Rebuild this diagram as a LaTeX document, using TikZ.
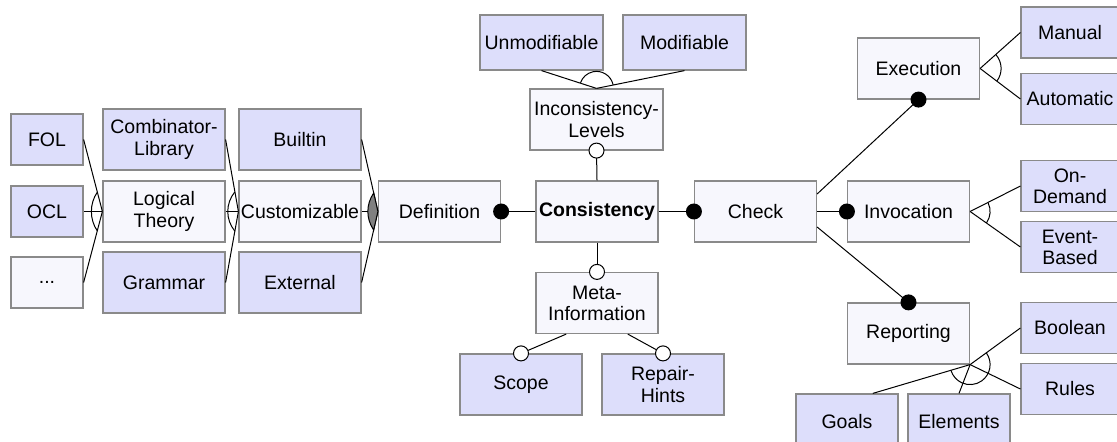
\documentclass[tikz,border=0pt]{standalone}
\usepackage{fontspec}
\setmainfont{Liberation Sans}
\usetikzlibrary{calc}
\definecolor{featabs}{RGB}{247,247,253}
\definecolor{featcon}{RGB}{221,222,251}
\definecolor{featedge}{RGB}{138,138,138}
\definecolor{orfill}{RGB}{128,128,128}
\begin{document}
\begin{tikzpicture}[x=0.5pt,y=0.5pt,
  feat/.style={draw=featedge,line width=0.6pt,inner sep=0pt,align=center,
    font=\fontsize{9.75}{10.6}\selectfont},
  featA/.style={feat,fill=featabs},
  featC/.style={feat,fill=featcon},
  wide/.style={minimum width=61pt,minimum height=30.5pt},
  narrow/.style={minimum width=36pt,minimum height=25.5pt},
  side/.style={minimum width=49pt,minimum height=25.5pt},
  low/.style={minimum width=51pt,minimum height=28pt},
  edge/.style={line width=0.5pt,black},
  mand/.style={circle,fill=black,inner sep=0pt,minimum size=8pt},
  opt/.style={circle,draw=black,fill=white,line width=0.5pt,inner sep=0pt,minimum size=7.5pt},
]
\useasboundingbox (0,0) rectangle (1117,-442);

% root and its direct children
\node[featA,wide] (cons) at (597,-211.5) {\bfseries Consistency};
\node[featA,wide] (def) at (439.5,-211.5) {Definition};
\node[featA,wide] (check) at (755.5,-211.5) {Check};
\node[featA,minimum width=66.5pt,minimum height=30.5pt] (il) at (596.5,-119.5) {Inconsistency-\\Levels};
\node[featA,wide] (meta) at (597,-303) {Meta-\\Information};

% inconsistency levels
\node[featC,minimum width=61.5pt,minimum height=27.5pt] (unmod) at (541.5,-42.5) {Unmodifiable};
\node[featC,minimum width=61.5pt,minimum height=27.5pt] (mod) at (684.5,-42.5) {Modifiable};

% meta information
\node[featC,wide] (scope) at (521,-384.5) {Scope};
\node[featC,wide] (repair) at (663,-384.5) {Repair-\\Hints};

% check subtree
\node[featA,wide] (exec) at (918.5,-68.5) {Execution};
\node[featA,wide] (inv) at (908.5,-211.5) {Invocation};
\node[featA,wide] (rep) at (908.5,-333.5) {Reporting};
\node[featC,side] (manual) at (1070,-32.5) {Manual};
\node[featC,side] (auto) at (1070,-99) {Automatic};
\node[featC,side] (ondem) at (1070,-186) {On-\\Demand};
\node[featC,side] (event) at (1070,-247) {Event-\\Based};
\node[featC,side] (bool) at (1070,-328) {Boolean};
\node[featC,side] (rules) at (1070,-389) {Rules};
\node[featC,low] (goals) at (847,-422) {Goals};
\node[featC,low] (elem) at (959,-422) {Elements};

% definition subtree
\node[featC,wide] (builtin) at (300,-139.5) {Builtin};
\node[featA,wide] (custom) at (300,-211.5) {Customizable};
\node[featC,wide] (external) at (300,-282.5) {External};
\node[featC,wide] (comb) at (164,-139.5) {Combinator-\\Library};
\node[featA,wide] (logic) at (164,-211.5) {Logical\\Theory};
\node[featC,wide] (grammar) at (164,-282.5) {Grammar};
\node[featC,narrow] (fol) at (47,-139.5) {FOL};
\node[featC,narrow] (ocl) at (47,-211.5) {OCL};
\node[featA,narrow] (etc) at (47,-282.5) {...};

% mandatory and optional edges
\draw[edge] (def) -- (cons);
\draw[edge] (cons) -- (check);
\draw[edge] (check) -- (inv);
\draw[edge] (cons.north) -- (il.south);
\draw[edge] (cons.south) -- (meta.north);
\coordinate (metaL) at ($(meta.south west)!0.25!(meta.south east)$);
\coordinate (metaR) at ($(meta.south west)!0.75!(meta.south east)$);
\draw[edge] (metaL) -- (scope.north);
\draw[edge] (metaR) -- (repair.north);
\coordinate (chkA) at ($(check.east)+(0,17.5)$);
\coordinate (chkB) at ($(check.east)+(0,-15.5)$);
\draw[edge] (chkA) -- (exec.south);
\draw[edge] (chkB) -- (rep.north);

% alternative group: inconsistency levels
\draw[edge] (il.north) -- (unmod.south);
\draw[edge] (il.north) -- (mod.south);
\draw[edge] ($(il.north)+(12.2:8.5pt)$) arc[start angle=12.2,end angle=160.9,radius=8.5pt];

% alternative group: execution
\draw[edge] (exec.east) -- (manual.west);
\draw[edge] (exec.east) -- (auto.west);
\draw[edge] ($(exec.east)+(-36.6:10.5pt)$) arc[start angle=-36.6,end angle=41.3,radius=10.5pt];

% alternative group: invocation
\draw[edge] (inv.east) -- (ondem.west);
\draw[edge] (inv.east) -- (event.west);
\draw[edge] ($(inv.east)+(-34.8:10pt)$) arc[start angle=-34.8,end angle=26.6,radius=10pt];

% alternative group: reporting
\coordinate (goalsT) at ($(goals.north west)!0.75!(goals.north east)$);
\draw[edge] (rep.south east) -- (bool.west);
\draw[edge] (rep.south east) -- (rules.west);
\draw[edge] (rep.south east) -- (elem.north);
\draw[edge] (rep.south east) -- (goalsT);
\draw[edge] ($(rep.south east)+(35.2:10pt)$) arc[start angle=35.2,end angle=-162.9,radius=10pt];

% or group: definition
\draw[edge] (def.west) -- (builtin.east);
\draw[edge] (def.west) -- (custom.east);
\draw[edge] (def.west) -- (external.east);
\filldraw[edge,fill=orfill] (def.west) -- ($(def.west)!9.5pt!(builtin.east)$)
  .. controls ($(def.west)+(-6pt,3.5pt)$) and ($(def.west)+(-6pt,-3.5pt)$)
  .. ($(def.west)!9.5pt!(external.east)$) -- cycle;

% alternative group: customizable
\draw[edge] (custom.west) -- (comb.east);
\draw[edge] (custom.west) -- (logic.east);
\draw[edge] (custom.west) -- (grammar.east);
\draw[edge] ($(custom.west)!10pt!(comb.east)$)
  .. controls ($(custom.west)+(-6.5pt,4pt)$) and ($(custom.west)+(-6.5pt,-4pt)$)
  .. ($(custom.west)!10pt!(grammar.east)$);

% alternative group: logical theory
\draw[edge] (logic.west) -- (fol.east);
\draw[edge] (logic.west) -- (ocl.east);
\draw[edge] (logic.west) -- (etc.east);
\draw[edge] ($(logic.west)!10pt!(fol.east)$)
  .. controls ($(logic.west)+(-6.5pt,4pt)$) and ($(logic.west)+(-6.5pt,-4pt)$)
  .. ($(logic.west)!10pt!(etc.east)$);

% edge end markers
\node[mand] (mDef) at (def.east) {};
\node[mand] (mCheck) at (check.west) {};
\node[mand] (mInv) at (inv.west) {};
\node[mand] (mExec) at (exec.south) {};
\node[mand] (mRep) at (rep.north) {};
\node[opt] (oIL) at (il.south) {};
\node[opt] (oMeta) at (meta.north) {};
\node[opt] (oScope) at (scope.north) {};
\node[opt] (oRepair) at (repair.north) {};
\end{tikzpicture}
\end{document}
